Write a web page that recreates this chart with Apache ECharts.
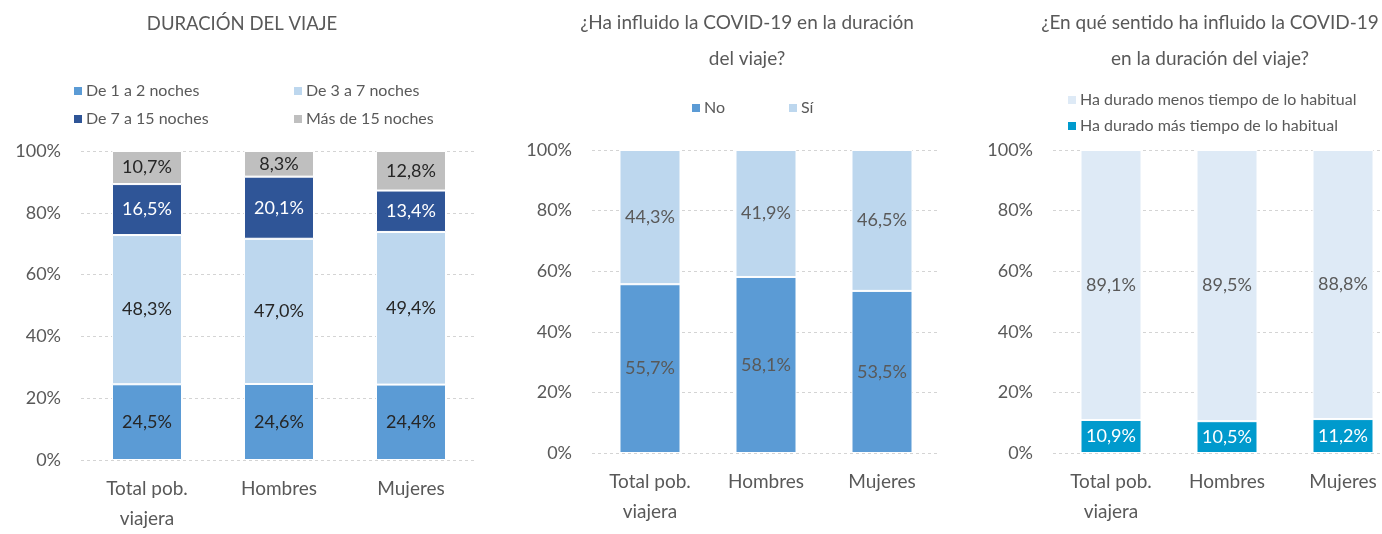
<!DOCTYPE html>
<html>
<head>
<meta charset="utf-8">
<script src="https://cdn.jsdelivr.net/npm/echarts@6/dist/echarts.min.js"></script>
<style>
  html, body { margin: 0; padding: 0; background: #fff; overflow: hidden; }
  #main { width: 1410px; height: 534px; }
</style>
</head>
<body>
<div id="main"></div>
<script>
const categories = ['Total pob.\nviajera', 'Hombres', 'Mujeres'];
const yTicks = [0, 20, 40, 60, 80, 100];

// Duración del viaje (%)
const noches1a2 = [24.5, 24.6, 24.4];
const noches3a7 = [48.3, 47.0, 49.4];
const noches7a15 = [16.5, 20.1, 13.4];
const noches15mas = [10.7, 8.3, 12.8];

// ¿Ha influido la COVID-19? (%)
const influidoNo = [55.7, 58.1, 53.5];
const influidoSi = [44.3, 41.9, 46.5];

// ¿En qué sentido? (%)
const masTiempo = [10.9, 10.5, 11.2];
const menosTiempo = [89.1, 89.5, 88.8];

const FONT = 'Lato';
const GREY = '#595959';
const fmt = (p) => p.value.toFixed(1).replace('.', ',') + '%';

const chart = echarts.init(document.getElementById('main'));

function xAx(i) {
  return {
    type: 'category', gridIndex: i, data: categories,
    axisLine: { show: false }, axisTick: { show: false },
    axisLabel: { color: GREY, fontSize: 19, fontFamily: FONT, lineHeight: 30, margin: 14 }
  };
}
function yAx(i) {
  return {
    type: 'value', gridIndex: i, min: yTicks[0], max: yTicks[yTicks.length - 1], interval: 20,
    axisLine: { show: false }, axisTick: { show: false },
    axisLabel: { color: GREY, fontSize: 18, fontFamily: FONT, margin: 20, formatter: '{value}%' },
    splitLine: { lineStyle: { color: '#d4d4d4', type: [3, 3] } }
  };
}
function bar(name, data, i, color, labelColor, width) {
  return {
    name, type: 'bar', stack: 's' + i, xAxisIndex: i, yAxisIndex: i, data,
    barWidth: width,
    itemStyle: { color, borderColor: '#fff', borderWidth: 1 },
    label: { show: true, position: 'inside', formatter: fmt, color: labelColor, fontSize: 18, fontFamily: FONT }
  };
}
function leg(name, left, top) {
  return {
    data: [name], left, top, itemWidth: 10, itemHeight: 10, itemGap: 6,
    icon: 'rect', textStyle: { color: GREY, fontSize: 16, fontFamily: FONT, padding: [0, 0, 0, -2] }
  };
}

chart.setOption({
  animation: false,
  textStyle: { fontFamily: FONT },
  title: [
    { text: 'DURACIÓN DEL VIAJE', left: 237, top: 10, textAlign: 'center',
      textStyle: { color: GREY, fontSize: 18.5, fontWeight: 'normal', fontFamily: FONT } },
    { text: '¿Ha influido la COVID-19 en la duración\ndel viaje?', left: 742, top: 0, textAlign: 'center',
      textStyle: { color: GREY, fontSize: 19, fontWeight: 'normal', fontFamily: FONT, lineHeight: 36 } },
    { text: '¿En qué sentido ha influido la COVID-19\nen la duración del viaje?', left: 1205, top: 0, textAlign: 'center',
      textStyle: { color: GREY, fontSize: 19, fontWeight: 'normal', fontFamily: FONT, lineHeight: 36 } }
  ],
  legend: [
    leg('De 1 a 2 noches', 67, 78),
    leg('De 3 a 7 noches', 287, 78),
    leg('De 7 a 15 noches', 67, 106),
    leg('Más de 15 noches', 287, 106),
    leg('No', 685, 95),
    leg('Sí', 782, 95),
    leg('Ha durado menos tiempo de lo habitual', 1061, 87),
    leg('Ha durado más tiempo de lo habitual', 1061, 113)
  ],
  grid: [
    { left: 81, top: 151, width: 396, height: 309 },
    { left: 592, top: 150, width: 348, height: 303 },
    { left: 1053, top: 150, width: 348, height: 303 }
  ],
  xAxis: [xAx(0), xAx(1), xAx(2)],
  yAxis: [yAx(0), yAx(1), yAx(2)],
  series: [
    bar('De 1 a 2 noches', noches1a2, 0, '#5b9bd5', '#262626', 70),
    bar('De 3 a 7 noches', noches3a7, 0, '#bdd7ee', '#262626', 70),
    bar('De 7 a 15 noches', noches7a15, 0, '#2f5597', '#ffffff', 70),
    bar('Más de 15 noches', noches15mas, 0, '#bfbfbf', '#262626', 70),
    bar('No', influidoNo, 1, '#5b9bd5', GREY, 61),
    bar('Sí', influidoSi, 1, '#bdd7ee', GREY, 61),
    bar('Ha durado más tiempo de lo habitual', masTiempo, 2, '#009acd', '#ffffff', 61),
    bar('Ha durado menos tiempo de lo habitual', menosTiempo, 2, '#deeaf6', GREY, 61)
  ]
});
</script>
</body>
</html>
